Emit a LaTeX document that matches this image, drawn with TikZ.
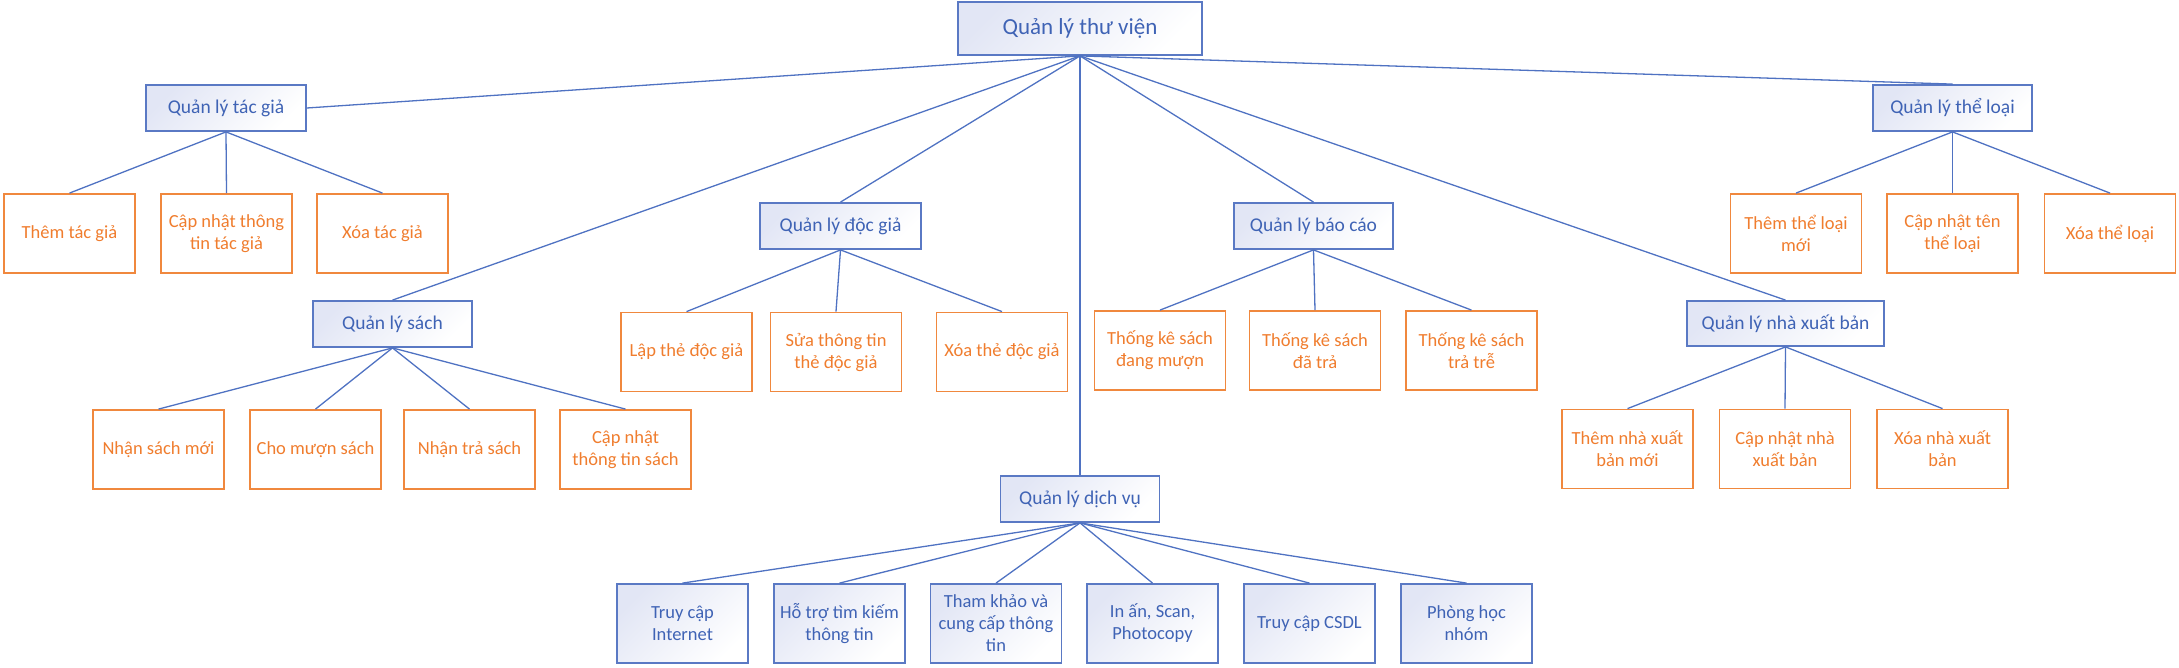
\documentclass[tikz,border=0pt]{standalone}
\usepackage{fontspec}
\setmainfont{Carlito}
\definecolor{bline}{HTML}{4F72C2}
\definecolor{bborder}{HTML}{5A79C4}
\definecolor{btext}{HTML}{3F63B5}
\definecolor{bfill}{HTML}{E2E6F5}
\definecolor{oborder}{HTML}{F0883E}
\definecolor{otext}{HTML}{F07D2E}
\tikzset{
  mgr/.style={draw=bborder, line width=1.8pt, top color=bfill, bottom color=white, shading angle=45,
    text=btext, align=center, inner sep=0pt, font=\fontsize{19.5}{23}\selectfont},
  leaf/.style={draw=oborder, line width=1.8pt, fill=white, text=otext, align=center,
    inner sep=0pt, minimum width=131pt, minimum height=79pt, font=\fontsize{18.5}{22}\selectfont},
  svc/.style={draw=bborder, line width=1.8pt, top color=bfill, bottom color=white, shading angle=45,
    text=btext, align=center, inner sep=0pt, minimum height=79pt, minimum width=131pt, font=\fontsize{18.5}{22}\selectfont},
  conn/.style={draw=bline, line width=1.3pt}
}
\begin{document}
\begin{tikzpicture}[x=1pt,y=-1pt]
\useasboundingbox (0,0) rectangle (2179,667);
% managers
\node[mgr, minimum width=244pt, minimum height=53pt, font=\fontsize{23}{27}\selectfont] (root) at (1080,28.5) {Quản lý thư viện};
\node[mgr, minimum width=160pt, minimum height=46pt] (tg) at (226,108) {Quản lý tác giả};
\node[mgr, minimum width=159pt, minimum height=46pt] (tl) at (1952.5,108) {Quản lý thể loại};
\node[mgr, minimum width=159pt, minimum height=46pt] (s) at (392.5,324) {Quản lý sách};
\node[mgr, minimum width=161pt, minimum height=46pt] (dg) at (840.5,226) {Quản lý độc giả};
\node[mgr, minimum width=159pt, minimum height=46pt] (bc) at (1313.5,226) {Quản lý báo cáo};
\node[mgr, minimum width=159pt, minimum height=46pt] (dv) at (1080,499) {Quản lý dịch vụ};
\node[mgr, minimum width=197pt, minimum height=45pt] (nxb) at (1785.5,323.5) {Quản lý nhà xuất bản};
% tac gia leaves
\node[leaf] (tg1) at (69.5,233.5) {Thêm tác giả};
\node[leaf] (tg2) at (226.5,233.5) {Cập nhật thông\\tin tác giả};
\node[leaf] (tg3) at (382.5,233.5) {Xóa tác giả};
% the loai leaves
\node[leaf] (tl1) at (1796,233.5) {Thêm thể loại\\mới};
\node[leaf] (tl2) at (1952.5,233.5) {Cập nhật tên\\thể loại};
\node[leaf] (tl3) at (2110,233.5) {Xóa thể loại};
% sach leaves
\node[leaf] (s1) at (158.5,449.5) {Nhận sách mới};
\node[leaf] (s2) at (315.5,449.5) {Cho mượn sách};
\node[leaf] (s3) at (469.5,449.5) {Nhận trả sách};
\node[leaf] (s4) at (625.5,449.5) {Cập nhật\\thông tin sách};
% doc gia leaves
\node[leaf] (dg1) at (686.5,352) {Lập thẻ độc giả};
\node[leaf] (dg2) at (836,352) {Sửa thông tin\\thẻ độc giả};
\node[leaf] (dg3) at (1002,352) {Xóa thẻ độc giả};
% bao cao leaves
\node[leaf] (bc1) at (1160,350.5) {Thống kê sách\\đang mượn};
\node[leaf] (bc2) at (1315,350.5) {Thống kê sách\\đã trả};
\node[leaf] (bc3) at (1471.5,350.5) {Thống kê sách\\trả trễ};
% nxb leaves
\node[leaf] (n1) at (1627.5,449) {Thêm nhà xuất\\bản mới};
\node[leaf] (n2) at (1785,449) {Cập nhật nhà\\xuất bản};
\node[leaf] (n3) at (1942.5,449) {Xóa nhà xuất\\bản};
% dich vu leaves
\node[svc] (d1) at (682.5,623.5) {Truy cập\\Internet};
\node[svc] (d2) at (839.5,623.5) {Hỗ trợ tìm kiếm\\thông tin};
\node[svc] (d3) at (996,623.5) {Tham khảo và\\cung cấp thông\\tin};
\node[svc] (d4) at (1152.5,623.5) {In ấn, Scan,\\Photocopy};
\node[svc] (d5) at (1309.5,623.5) {Truy cập CSDL};
\node[svc] (d6) at (1466.5,623.5) {Phòng học\\nhóm};
% connectors
\draw[conn] (root.south) -- (tg.east);
\draw[conn] (root.south) -- (tl.north);
\draw[conn] (root.south) -- (s.north);
\draw[conn] (root.south) -- (dg.north);
\draw[conn] (root.south) -- (bc.north);
\draw[conn] (root.south) -- (dv.north);
\draw[conn] (root.south) -- (nxb.north);
\foreach \c in {tg1,tg2,tg3} \draw[conn] (tg.south) -- (\c.north);
\foreach \c in {tl1,tl2,tl3} \draw[conn] (tl.south) -- (\c.north);
\foreach \c in {s1,s2,s3,s4} \draw[conn] (s.south) -- (\c.north);
\foreach \c in {dg1,dg2,dg3} \draw[conn] (dg.south) -- (\c.north);
\foreach \c in {bc1,bc2,bc3} \draw[conn] (bc.south) -- (\c.north);
\foreach \c in {n1,n2,n3} \draw[conn] (nxb.south) -- (\c.north);
\foreach \c in {d1,d2,d3,d4,d5,d6} \draw[conn] (dv.south) -- (\c.north);
\end{tikzpicture}
\end{document}
